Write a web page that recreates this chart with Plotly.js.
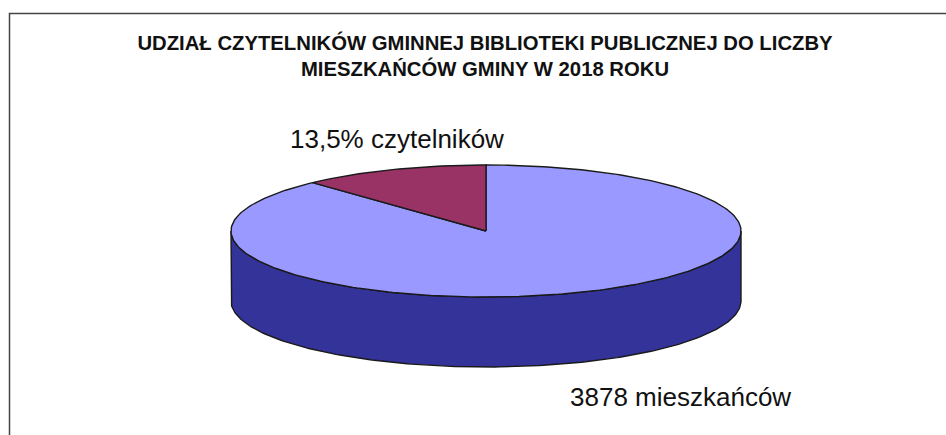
<!DOCTYPE html>
<html><head><meta charset="utf-8">
<script src="https://cdn.plot.ly/plotly-3.0.1.min.js"></script>
<style>html,body{margin:0;padding:0;background:#fff}#c{width:946px;height:435px}</style>
</head><body><div id="c"></div>
<script>
const categories = ["czytelnicy", "mieszkańcy"];
const values = [524, 3878];
const sliceColors = ["#993366", "#9999FF"];
const wallColor = "#333399";
const labels = ["13,5% czytelników", "3878 mieszkańców"];
const titleText = "UDZIAŁ CZYTELNIKÓW GMINNEJ BIBLIOTEKI PUBLICZNEJ DO LICZBY<br>MIESZKAŃCÓW GMINY W 2018 ROKU";

const W = 946, H = 435;
const cx = 486, cy = 231, rx = 255, ry = 66, depthPx = 70;
const depth = depthPx / ry;
const total = values.reduce((a, b) => a + b, 0);
const edge = "#1a1a1a";

function arc(a0, a1, dy) {
  const xs = [], ys = [], n = Math.max(2, Math.ceil(Math.abs(a1 - a0) * 180 / Math.PI));
  for (let i = 0; i <= n; i++) {
    const a = a0 + (a1 - a0) * i / n;
    xs.push(Math.sin(a)); ys.push(Math.cos(a) + dy);
  }
  return [xs, ys];
}
const lineStyle = {color: edge, width: 1.4};
function poly(xs, ys, color, name) {
  return {type: "scatter", mode: "lines", x: xs, y: ys, fill: "toself", fillcolor: color,
          line: lineStyle, hoverinfo: "name", name: name, showlegend: false};
}
// side wall (front half of the rim)
const rimTop = arc(Math.PI / 2, 3 * Math.PI / 2, 0);
const rimBot = arc(3 * Math.PI / 2, Math.PI / 2, -depth);
const wall = poly(rimTop[0].concat(rimBot[0]), rimTop[1].concat(rimBot[1]), wallColor, "bok");
wall.x.push(wall.x[0]); wall.y.push(wall.y[0]);

// slices run counter-clockwise from 12 o'clock, first value first
const traces = [wall];
const a1 = -2 * Math.PI * values[0] / total;
const s0 = arc(0, a1, 0);
const s1 = arc(a1, -2 * Math.PI, 0);
traces.push(poly([0].concat(s1[0], [0]), [0].concat(s1[1], [0]), sliceColors[1], categories[1]));
traces.push(poly([0].concat(s0[0], [0]), [0].concat(s0[1], [0]), sliceColors[0], categories[0]));

const fontFam = "Liberation Sans, Arial, sans-serif";
const layout = {
  width: W, height: H,
  margin: {l: 0, r: 0, t: 0, b: 0, pad: 0},
  paper_bgcolor: "#fff", plot_bgcolor: "#fff",
  showlegend: false,
  title: {text: "<b>" + titleText + "</b>", x: 485 / W, xanchor: "center", y: 1 - 49.5 / H, yanchor: "middle",
          font: {family: fontFam, size: 20.3, color: "#111"}},
  xaxis: {range: [(0 - cx) / rx, (W - cx) / rx], visible: false, fixedrange: true},
  yaxis: {range: [(cy - H) / ry, cy / ry], visible: false, fixedrange: true},
  shapes: [{type: "path", xref: "paper", yref: "paper",
            path: `M ${9.5/W} 0 L ${9.5/W} ${1-13.5/H} L 1 ${1-13.5/H}`,
            line: {color: "#444", width: 1.5}}],
  annotations: [
    {text: labels[0], xref: "paper", yref: "paper", x: 396.5/W, y: 1-139/H, showarrow: false, xanchor: "center", yanchor: "middle",
     font: {family: fontFam, size: 26, color: "#111"}},
    {text: labels[1], xref: "paper", yref: "paper", x: 680.5/W, y: 1-397/H, showarrow: false, xanchor: "center", yanchor: "middle",
     font: {family: fontFam, size: 26, color: "#111"}}
  ]
};
Plotly.newPlot("c", traces, layout, {displayModeBar: false, staticPlot: true});
</script></body></html>
